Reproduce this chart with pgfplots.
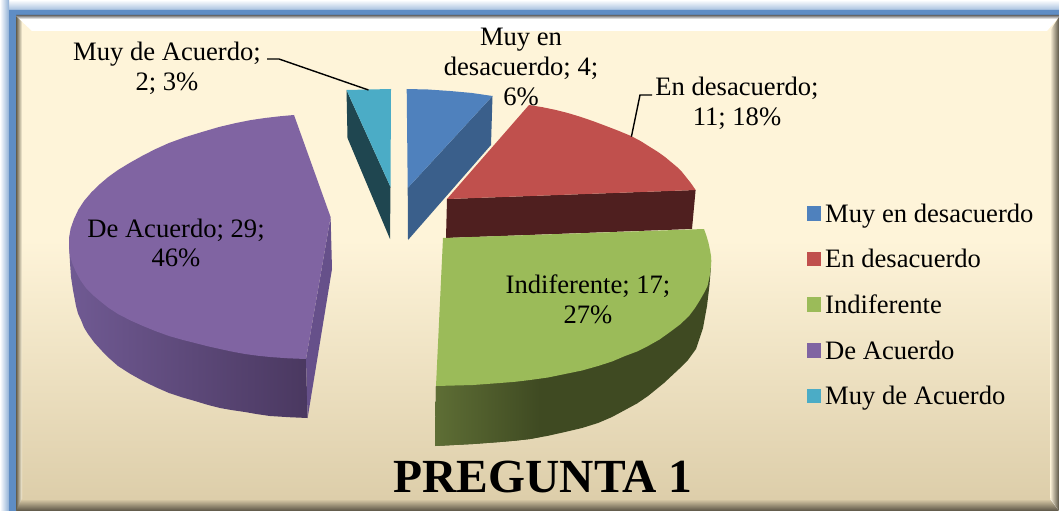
\documentclass[border=0pt]{standalone}
\usepackage{pgfplots}
\pgfplotsset{compat=1.18}
\usepackage{fontspec}
\setmainfont{Liberation Serif}
\definecolor{bgA}{HTML}{FEF4D9}
\definecolor{bgB}{HTML}{DDCEAA}
\definecolor{cBlue}{HTML}{4F81BD}
\definecolor{dBlue}{HTML}{3A5F8B}
\definecolor{cRed}{HTML}{C0504D}
\definecolor{dRed}{HTML}{4F1F1F}
\definecolor{cGreen}{HTML}{9BBB59}
\definecolor{dGreen}{HTML}{3F4A22}
\definecolor{lGreen}{HTML}{5E6E35}
\definecolor{cPurple}{HTML}{8064A2}
\definecolor{sPurple}{HTML}{66508A}
\definecolor{dPurple}{HTML}{4A3860}
\definecolor{mPurple}{HTML}{705A93}
\definecolor{cTeal}{HTML}{4BACC6}
\definecolor{dTeal}{HTML}{1F4650}
\definecolor{frameBlue}{HTML}{5F8DC4}
\newcommand{\lab}{\fontsize{26.7}{30}\selectfont}
\begin{document}
\begin{tikzpicture}
\begin{axis}[
  scale only axis, width=1059bp, height=511bp,
  xmin=0, xmax=1059, ymin=0, ymax=511, y dir=reverse,
  hide axis,
  legend style={at={(axis cs:806.5,201.5)}, anchor=north west, draw=none, fill=none,
    font=\lab, row sep=21.7pt, inner xsep=0pt, inner ysep=0pt,
    /tikz/every even column/.append style={column sep=0pt}},
  legend cell align=left,
  legend image code/.code={\fill[#1,draw=none] (0bp,-7bp) rectangle (14.5bp,7.5bp);},
]
% outer frame
\addplot[shade, top color=white, bottom color=frameBlue!55, draw=none, forget plot] coordinates {(0,0)(1059,0)(1059,10)(0,10)} --cycle;
\addplot[shade, left color=white, right color=frameBlue!70, draw=none, forget plot] coordinates {(0,0)(9,0)(9,511)(0,511)} --cycle;
\addplot[fill=frameBlue, draw=none, forget plot] coordinates {(9,10)(1059,10)(1059,16)(16,16)(16,511)(9,511)} --cycle;
% panel
\addplot[fill=bgA, draw=none, forget plot] coordinates {(16,16)(1059,16)(1059,240)(16,240)} --cycle;
\addplot[shade, top color=bgA, bottom color=bgB, draw=none, forget plot] coordinates {(16,240)(1059,240)(1059,498)(16,498)} --cycle;
% bevels
\addplot[fill=white, draw=none, forget plot] coordinates {(17,17)(1059,17)(1047,31)(32,31)} --cycle;
\addplot[shade, top color=gray!80!black, bottom color=white, draw=none, forget plot] coordinates {(16,15)(1059,15)(1059,19)(19,19)} --cycle;
\addplot[shade, left color=bgA, right color=black!60!bgB, draw=none, forget plot] coordinates {(1050,31)(1059,17)(1059,511)(1050,498)} --cycle;
\addplot[shade, left color=black!55!bgB, right color=bgA, draw=none, forget plot] coordinates {(16,16)(22,22)(22,505)(16,511)} --cycle;
\addplot[shade, top color=bgB, bottom color=black!60!bgB, draw=none, forget plot] coordinates {(22,499)(1050,499)(1059,511)(16,511)} --cycle;
% teal
\addplot[fill=dTeal, draw=none, forget plot] coordinates {(346.5,90)(347.5,138)(390,239)(390.5,187)} --cycle;
\addplot[fill=cTeal, draw=none, forget plot] coordinates {(346.5,90)(391,89)(390.5,187)} --cycle;
% blue
\addplot[fill=dBlue, draw=none, forget plot] coordinates {(407.7,188)(492.5,96)(491,145)(408,240)} --cycle;
\addplot[fill=cBlue, draw=none, forget plot] coordinates {(406.7,89)(428,89.5)(450,91)(472,93)(492.5,96)(407.7,188)} --cycle;
% red
\addplot[fill=dRed, draw=none, forget plot] coordinates {(447,199)(695.6,190)(692,229)(446,238)} --cycle;
\addplot[fill=cRed, draw=none, forget plot] coordinates {(447,199)(529,105)(542.5,107.2)(556,110)(568.5,113.2)(581,117)(593.5,121.3)(606,126)(618.5,130.8)(631,136)(641,141.3)(650,147)(658,152)(665,157)(671,162)(677,167)(682,172)(686,177)(691,183.3)(695.6,190)} --cycle;
% green
\addplot[fill=dGreen, draw=none, forget plot] coordinates {(711,266)(709.5,285)(707,306)(703,328)(696,349)(688,360)(679,369)(664,383)(648,396)(637,403.5)(625,410)(612,417)(598,423)(582,428)(565,432)(548,435.8)(530,439)(515,440.7)(500,442)(473,444)(435,446)(436,386)(700,270)} --cycle;
\addplot[shade, left color=lGreen, right color=dGreen, draw=none, forget plot] coordinates {(435,446)(473,444)(500,442)(515,440.7)(530,439)(540,437)(540,370)(436,386)} --cycle;
\addplot[fill=cGreen, draw=none, forget plot] coordinates {(443,238)(704,229)(706.5,236)(708.5,243)(710,250)(711,256)(711.3,261)(711,266)(709.7,276)(707.5,286)(704,293)(700,300)(695,308)(689,316)(680,324.5)(670,332)(659.5,339.5)(648,346)(637,351.5)(625,356)(612,361.5)(598,366)(582,370.5)(565,374)(548,377.5)(530,380)(515,381.8)(500,383)(473,385)(436,386)} --cycle;
% purple
\addplot[shade, left color=mPurple, right color=dPurple, draw=none, forget plot] coordinates {(69,238)(69.3,250)(70,263)(71,277)(73,290)(74.5,298)(76,306)(78,313.5)(81,320)(84,327.5)(88,334)(94.5,342.8)(102,351)(109.5,358.5)(118,366)(130,373.7)(143,381)(156,387.3)(169,393)(182,397.3)(195,401)(207.5,404.8)(220,408)(232.5,410.2)(245,412)(257.5,414.2)(270,416)(289,417.2)(307.6,418)(306,359)(200,300)} --cycle;
\addplot[fill=sPurple, draw=none, forget plot] coordinates {(330.6,217)(332,269)(307.6,418)(306,359)} --cycle;
\addplot[fill=cPurple, draw=none, forget plot] coordinates {(294,115)(279.5,116.3)(265,118)(250,120.2)(236,123)(219,127)(202,132)(185,137.2)(169,143)(155,149.3)(142,156)(129.5,163)(118,170)(108.5,176.8)(100,184)(91.5,192.2)(84,201)(78.3,209.8)(74,219)(70.7,228.3)(69,238)(69,247)(70,256)(72.5,264)(76,272)(80.5,280.3)(86,288)(92.5,294.7)(100,301)(108.5,307.8)(118,314)(130,320.2)(143,326)(156,331.3)(169,336)(182,339.7)(195,343)(207.5,346.2)(220,349)(232.5,351.7)(245,354)(257.5,355.7)(270,357)(288,358.3)(306,359)(330.6,217)} --cycle;
% leaders
\addplot[black, line width=1.4bp, forget plot] coordinates {(267,59)(279,59)(368.5,90)};
\addplot[black, line width=1.4bp, forget plot] coordinates {(652,95)(640,95)(631.4,136.7)};
% legend
\addlegendimage{fill=cBlue}\addlegendentry{\hspace{2bp}Muy en desacuerdo}
\addlegendimage{fill=cRed}\addlegendentry{\hspace{2bp}En desacuerdo}
\addlegendimage{fill=cGreen}\addlegendentry{\hspace{2bp}Indiferente}
\addlegendimage{fill=cPurple}\addlegendentry{\hspace{2bp}De Acuerdo}
\addlegendimage{fill=cTeal}\addlegendentry{\hspace{2bp}Muy de Acuerdo}
% labels
\node[align=center, font=\lab] at (axis cs:167,68) {Muy de Acuerdo;\\2; 3\%};
\node[align=center, font=\lab] at (axis cs:521,67) {Muy en\\desacuerdo; 4;\\6\%};
\node[align=center, font=\lab] at (axis cs:737,103) {En desacuerdo;\\11; 18\%};
\node[align=center, font=\lab] at (axis cs:588,299) {Indiferente; 17;\\27\%};
\node[align=center, font=\lab] at (axis cs:176,243) {De Acuerdo; 29;\\46\%};
\node[font=\fontsize{47.7}{48}\selectfont\bfseries] at (axis cs:543,477) {PREGUNTA 1};
\end{axis}
\end{tikzpicture}
\end{document}
